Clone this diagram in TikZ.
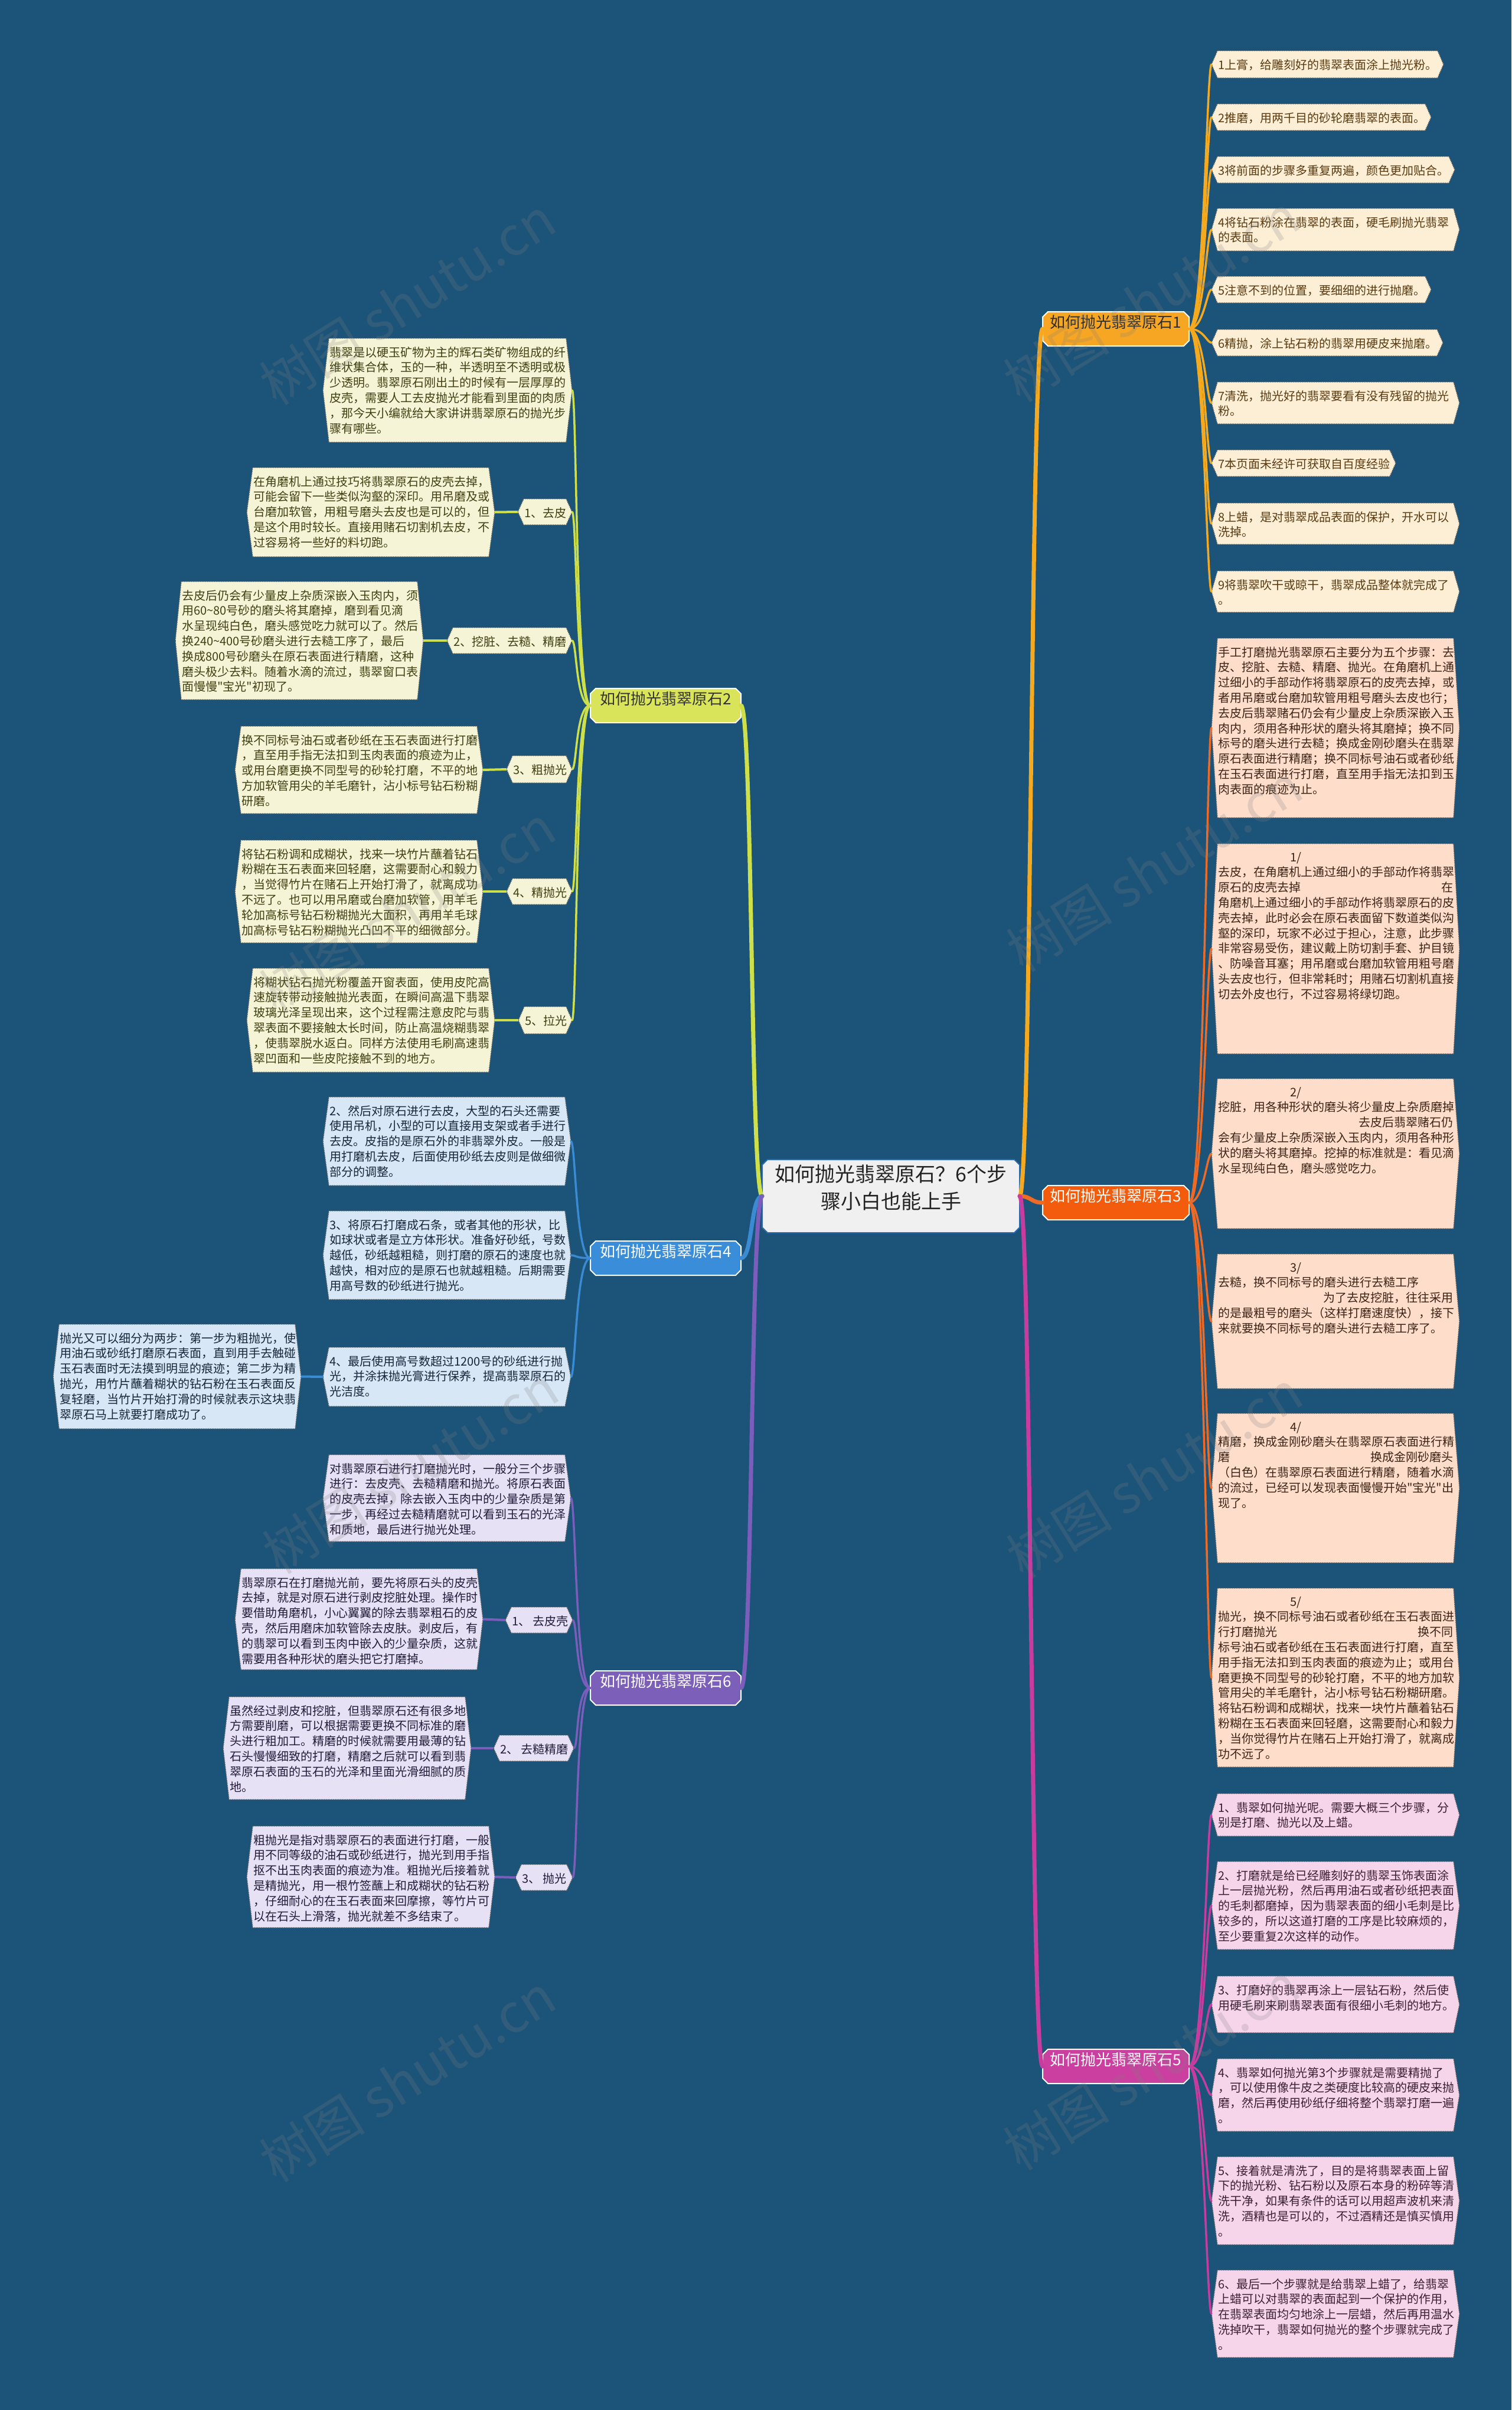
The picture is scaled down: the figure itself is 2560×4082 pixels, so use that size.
\documentclass[tikz,border=0pt]{standalone}
\usepackage{fontspec}
\setmainfont{Noto Sans CJK SC}[Ligatures=TeXOff]
\usetikzlibrary{fit}
\pgfdeclarelayer{bglayer}
\pgfdeclarelayer{shapelayer}
\pgfdeclarelayer{wmlayer}
\pgfsetlayers{bglayer,shapelayer,main,wmlayer}

\definecolor{bgc}{HTML}{1C5479}
% leaf colours
\definecolor{yfill}{HTML}{FCEFD6}\definecolor{ytext}{HTML}{5A3A10}
\definecolor{ofill}{HTML}{FEDDCB}\definecolor{otext}{HTML}{3B2416}
\definecolor{pfill}{HTML}{F6D5EB}\definecolor{ptext}{HTML}{3B1F33}
\definecolor{gfill}{HTML}{F6F4D6}\definecolor{gtext}{HTML}{3F3F12}
\definecolor{bfill}{HTML}{D8E7F6}\definecolor{btext}{HTML}{15263A}
\definecolor{vfill}{HTML}{E6E1F4}\definecolor{vtext}{HTML}{221C3A}
% main nodes
\definecolor{cfill}{HTML}{F0F0F0}\definecolor{ctext}{HTML}{222222}\definecolor{cdraw}{HTML}{2A6BB0}
\definecolor{m1fill}{HTML}{F6A623}\definecolor{m1text}{HTML}{2E2E2E}\definecolor{m1draw}{HTML}{FFFFFF}
\definecolor{m2fill}{HTML}{D9E45A}\definecolor{m2text}{HTML}{333333}\definecolor{m2draw}{HTML}{FFFFFF}
\definecolor{m3fill}{HTML}{F25C0C}\definecolor{m3text}{HTML}{FFFFFF}\definecolor{m3draw}{HTML}{FFFFFF}
\definecolor{m4fill}{HTML}{3A8DD8}\definecolor{m4text}{HTML}{FFFFFF}\definecolor{m4draw}{HTML}{FFFFFF}
\definecolor{m5fill}{HTML}{CB3FA0}\definecolor{m5text}{HTML}{FFFFFF}\definecolor{m5draw}{HTML}{FFFFFF}
\definecolor{m6fill}{HTML}{7C5FB9}\definecolor{m6text}{HTML}{FFFFFF}\definecolor{m6draw}{HTML}{FFFFFF}
% lines
\definecolor{l1c}{HTML}{F5A91F}
\definecolor{l2c}{HTML}{CDE04A}
\definecolor{l3c}{HTML}{EE6A25}
\definecolor{l4c}{HTML}{3A8AD4}
\definecolor{l5c}{HTML}{C73C9E}
\definecolor{l6c}{HTML}{7B5EBB}

\tikzset{
  leaftext/.style={anchor=north west, inner sep=0pt, align=left,
    font=\fontsize{20}{25.8}\selectfont},
  leafshape/.style={draw=black!65, line width=1.4pt, dash pattern=on 1.5pt off 1.5pt},
  mainline/.style={line width=7pt, line cap=round},
  subline/.style={line width=3.5pt, line cap=round},
  wmark/.style={font=\fontsize{90}{90}\selectfont, rotate=32, text=gray, opacity=0.22},
}

\newcommand{\leaf}[7]{%
  \node[fit={(#3,#4) (#5,#6)}, inner sep=0pt, outer sep=0pt] (#1) {};%
  \node[leaftext, text=#2text] (#1-t) at (#3+1,#4+14) {#7};%
  \begin{pgfonlayer}{shapelayer}%
  \path[leafshape, fill=#2fill] ([xshift=-10pt]#1.west) -- (#1.north west) -- (#1.north east)
     -- ([xshift=10pt]#1.east) -- (#1.south east) -- (#1.south west) -- cycle;%
  \end{pgfonlayer}%
}
\newcommand{\octnode}[8]{%
  \node[fit={(#2,#3) (#4,#5)}, inner sep=0pt, outer sep=0pt, align=center, text=#6text, font=#7] (#1) {#8};%
  \begin{pgfonlayer}{shapelayer}%
  \path[fill=#6fill, draw=#6draw, line width=2pt] ([xshift=9pt]#1.north west) -- ([xshift=-9pt]#1.north east)
    -- ([yshift=-9pt]#1.north east) -- ([yshift=9pt]#1.south east) -- ([xshift=-9pt]#1.south east)
    -- ([xshift=9pt]#1.south west) -- ([yshift=9pt]#1.south west) -- ([yshift=-9pt]#1.north west) -- cycle;%
  \end{pgfonlayer}%
}
\newcommand{\indt}{\hspace*{122pt}}

\begin{document}
\begin{tikzpicture}[x=1pt,y=-1pt]
\useasboundingbox (0,0) rectangle (2560,4082);
\begin{pgfonlayer}{bglayer}
\fill[bgc] (0,0) rectangle (2560,4082);
\end{pgfonlayer}

% ---------- centre and branches ----------
\octnode{C}{1291}{1964}{1727}{2088}{c}{\fontsize{34}{46}\selectfont}{如何抛光翡翠原石？6个步\\骤小白也能上手}
\octnode{B1}{1766}{528}{2014}{586}{m1}{\fontsize{26}{30}\selectfont}{如何抛光翡翠原石1}
\octnode{B3}{1766}{2008}{2014}{2066}{m3}{\fontsize{26}{30}\selectfont}{如何抛光翡翠原石3}
\octnode{B5}{1766}{3471}{2014}{3529}{m5}{\fontsize{26}{30}\selectfont}{如何抛光翡翠原石5}
\octnode{B2}{1000}{1166}{1255}{1224}{m2}{\fontsize{26}{30}\selectfont}{如何抛光翡翠原石2}
\octnode{B4}{1000}{2102}{1255}{2160}{m4}{\fontsize{26}{30}\selectfont}{如何抛光翡翠原石4}
\octnode{B6}{1000}{2830}{1255}{2888}{m6}{\fontsize{26}{30}\selectfont}{如何抛光翡翠原石6}

% ---------- branch 1 ----------
\leaf{r1a}{y}{2062}{86}{2435}{132}{1上膏，给雕刻好的翡翠表面涂上抛光粉。}
\leaf{r1b}{y}{2062}{176}{2414}{221}{2推磨，用两千目的砂轮磨翡翠的表面。}
\leaf{r1c}{y}{2062}{265}{2454}{310}{3将前面的步骤多重复两遍，颜色更加贴合。}
\leaf{r1d}{y}{2062}{353}{2462}{425}{4将钻石粉涂在翡翠的表面，硬毛刷抛光翡翠\\的表面。}
\leaf{r1e}{y}{2062}{468}{2414}{513}{5注意不到的位置，要细细的进行抛磨。}
\leaf{r1f}{y}{2062}{558}{2434}{603}{6精抛，涂上钻石粉的翡翠用硬皮来抛磨。}
\leaf{r1g}{y}{2062}{647}{2462}{718}{7清洗，抛光好的翡翠要看有没有残留的抛光\\粉。}
\leaf{r1h}{y}{2062}{762}{2354}{807}{7本页面未经许可获取自百度经验}
\leaf{r1i}{y}{2062}{852}{2462}{922}{8上蜡，是对翡翠成品表面的保护，开水可以\\洗掉。}
\leaf{r1j}{y}{2062}{967}{2462}{1037}{9将翡翠吹干或晾干，翡翠成品整体就完成了\\。}

% ---------- branch 3 ----------
\leaf{r3a}{o}{2062}{1081}{2462}{1385}{手工打磨抛光翡翠原石主要分为五个步骤：去\\皮、挖脏、去糙、精磨、抛光。在角磨机上通\\过细小的手部动作将翡翠原石的皮壳去掉，或\\者用吊磨或台磨加软管用粗号磨头去皮也行；\\去皮后翡翠赌石仍会有少量皮上杂质深嵌入玉\\肉内，须用各种形状的磨头将其磨掉；换不同\\标号的磨头进行去糙；换成金刚砂磨头在翡翠\\原石表面进行精磨；换不同标号油石或者砂纸\\在玉石表面进行打磨，直至用手指无法扣到玉\\肉表面的痕迹为止。}
\leaf{r3b}{o}{2062}{1429}{2462}{1785}{\indt 1/\\去皮，在角磨机上通过细小的手部动作将翡翠\\\makebox[398pt][l]{原石的皮壳去掉\hfill 在}\\角磨机上通过细小的手部动作将翡翠原石的皮\\壳去掉，此时必会在原石表面留下数道类似沟\\壑的深印，玩家不必过于担心，注意，此步骤\\非常容易受伤，建议戴上防切割手套、护目镜\\、防噪音耳塞；用吊磨或台磨加软管用粗号磨\\头去皮也行，但非常耗时；用赌石切割机直接\\切去外皮也行，不过容易将绿切跑。}
\leaf{r3c}{o}{2062}{1827}{2462}{2081}{\indt 2/\\挖脏，用各种形状的磨头将少量皮上杂质磨掉\\\makebox[398pt][r]{去皮后翡翠赌石仍}\\会有少量皮上杂质深嵌入玉肉内，须用各种形\\状的磨头将其磨掉。挖掉的标准就是：看见滴\\水呈现纯白色，磨头感觉吃力。}
\leaf{r3d}{o}{2062}{2124}{2462}{2352}{\indt 3/\\去糙，换不同标号的磨头进行去糙工序\\\makebox[398pt][r]{为了去皮挖脏，往往采用}\\的是最粗号的磨头（这样打磨速度快），接下\\来就要换不同标号的磨头进行去糙工序了。}
\leaf{r3e}{o}{2062}{2394}{2462}{2647}{\indt 4/\\精磨，换成金刚砂磨头在翡翠原石表面进行精\\\makebox[398pt][l]{磨\hfill 换成金刚砂磨头}\\（白色）在翡翠原石表面进行精磨，随着水滴\\的流过，已经可以发现表面慢慢开始"宝光"出\\现了。}
\leaf{r3f}{o}{2062}{2690}{2462}{2993}{\indt 5/\\抛光，换不同标号油石或者砂纸在玉石表面进\\\makebox[398pt][l]{行打磨抛光\hfill 换不同}\\标号油石或者砂纸在玉石表面进行打磨，直至\\用手指无法扣到玉肉表面的痕迹为止；或用台\\磨更换不同型号的砂轮打磨，不平的地方加软\\管用尖的羊毛磨针，沾小标号钻石粉糊研磨。\\将钻石粉调和成糊状，找来一块竹片蘸着钻石\\粉糊在玉石表面来回轻磨，这需要耐心和毅力\\，当你觉得竹片在赌石上开始打滑了，就离成\\功不远了。}

% ---------- branch 5 ----------
\leaf{r5a}{p}{2062}{3038}{2462}{3110}{1、翡翠如何抛光呢。需要大概三个步骤，分\\别是打磨、抛光以及上蜡。}
\leaf{r5b}{p}{2062}{3153}{2462}{3302}{2、打磨就是给已经雕刻好的翡翠玉饰表面涂\\上一层抛光粉，然后再用油石或者砂纸把表面\\的毛刺都磨掉，因为翡翠表面的细小毛刺是比\\较多的，所以这道打磨的工序是比较麻烦的，\\至少要重复2次这样的动作。}
\leaf{r5c}{p}{2062}{3347}{2462}{3443}{3、打磨好的翡翠再涂上一层钻石粉，然后使\\用硬毛刷来刷翡翠表面有很细小毛刺的地方。}
\leaf{r5d}{p}{2062}{3487}{2462}{3610}{4、翡翠如何抛光第3个步骤就是需要精抛了\\，可以使用像牛皮之类硬度比较高的硬皮来抛\\磨，然后再使用砂纸仔细将整个翡翠打磨一遍\\。}
\leaf{r5e}{p}{2062}{3653}{2462}{3802}{5、接着就是清洗了，目的是将翡翠表面上留\\下的抛光粉、钻石粉以及原石本身的粉碎等清\\洗干净，如果有条件的话可以用超声波机来清\\洗，酒精也是可以的，不过酒精还是慎买慎用\\。}
\leaf{r5f}{p}{2062}{3845}{2462}{3993}{6、最后一个步骤就是给翡翠上蜡了，给翡翠\\上蜡可以对翡翠的表面起到一个保护的作用，\\在翡翠表面均匀地涂上一层蜡，然后再用温水\\洗掉吹干，翡翠如何抛光的整个步骤就完成了\\。}

% ---------- branch 2 ----------
\leaf{l2i}{g}{557}{573}{959}{749}{翡翠是以硬玉矿物为主的辉石类矿物组成的纤\\维状集合体，玉的一种，半透明至不透明或极\\少透明。翡翠原石刚出土的时候有一层厚厚的\\皮壳，需要人工去皮抛光才能看到里面的肉质\\，那今天小编就给大家讲讲翡翠原石的抛光步\\骤有哪些。}
\leaf{l2a}{g}{887}{845}{959}{889}{1、去皮}
\leaf{l2at}{g}{428}{792}{828}{943}{在角磨机上通过技巧将翡翠原石的皮壳去掉，\\可能会留下一些类似沟壑的深印。用吊磨及或\\台磨加软管，用粗号磨头去皮也是可以的，但\\是这个用时较长。直接用赌石切割机去皮，不\\过容易将一些好的料切跑。}
\leaf{l2b}{g}{767}{1063}{959}{1107}{2、挖脏、去糙、精磨}
\leaf{l2bt}{g}{307}{985}{707}{1185}{去皮后仍会有少量皮上杂质深嵌入玉肉内，须\\用60\textasciitilde80号砂的磨头将其磨掉，磨到看见滴\\水呈现纯白色，磨头感觉吃力就可以了。然后\\换240\textasciitilde400号砂磨头进行去糙工序了，最后\\换成800号砂磨头在原石表面进行精磨，这种\\磨头极少去料。随着水滴的流过，翡翠窗口表\\面慢慢"宝光"初现了。}
\leaf{l2c}{g}{868}{1280}{959}{1326}{3、粗抛光}
\leaf{l2ct}{g}{408}{1230}{808}{1378}{换不同标号油石或者砂纸在玉石表面进行打磨\\，直至用手指无法扣到玉肉表面的痕迹为止，\\或用台磨更换不同型号的砂轮打磨，不平的地\\方加软管用尖的羊毛磨针，沾小标号钻石粉糊\\研磨。}
\leaf{l2d}{g}{868}{1488}{959}{1532}{4、精抛光}
\leaf{l2dt}{g}{408}{1423}{808}{1597}{将钻石粉调和成糊状，找来一块竹片蘸着钻石\\粉糊在玉石表面来回轻磨，这需要耐心和毅力\\，当觉得竹片在赌石上开始打滑了，就离成功\\不远了。也可以用吊磨或台磨加软管，用羊毛\\轮加高标号钻石粉糊抛光大面积，再用羊毛球\\加高标号钻石粉糊抛光凸凹不平的细微部分。}
\leaf{l2e}{g}{888}{1705}{959}{1751}{5、拉光}
\leaf{l2et}{g}{428}{1640}{828}{1816}{将糊状钻石抛光粉覆盖开窗表面，使用皮陀高\\速旋转带动接触抛光表面，在瞬间高温下翡翠\\玻璃光泽呈现出来，这个过程需注意皮陀与翡\\翠表面不要接触太长时间，防止高温烧糊翡翠\\，使翡翠脱水返白。同样方法使用毛刷高速翡\\翠凹面和一些皮陀接触不到的地方。}

% ---------- branch 4 ----------
\leaf{l4a}{b}{557}{1858}{957}{2008}{2、然后对原石进行去皮，大型的石头还需要\\使用吊机，小型的可以直接用支架或者手进行\\去皮。皮指的是原石外的非翡翠外皮。一般是\\用打磨机去皮，后面使用砂纸去皮则是做细微\\部分的调整。}
\leaf{l4b}{b}{557}{2051}{957}{2201}{3、将原石打磨成石条，或者其他的形状，比\\如球状或者是立方体形状。准备好砂纸，号数\\越低，砂纸越粗糙，则打磨的原石的速度也就\\越快，相对应的是原石也就越粗糙。后期需要\\用高号数的砂纸进行抛光。}
\leaf{l4c}{b}{557}{2282}{957}{2382}{4、最后使用高号数超过1200号的砂纸进行抛\\光，并涂抹抛光膏进行保养，提高翡翠原石的\\光洁度。}
\leaf{l4d}{b}{100}{2243}{500}{2420}{抛光又可以细分为两步：第一步为粗抛光，使\\用油石或砂纸打磨原石表面，直到用手去触碰\\玉石表面时无法摸到明显的痕迹；第二步为精\\抛光，用竹片蘸着糊状的钻石粉在玉石表面反\\复轻磨，当竹片开始打滑的时候就表示这块翡\\翠原石马上就要打磨成功了。}

% ---------- branch 6 ----------
\leaf{l6i}{v}{557}{2464}{957}{2611}{对翡翠原石进行打磨抛光时，一般分三个步骤\\进行：去皮壳、去糙精磨和抛光。将原石表面\\的皮壳去掉，除去嵌入玉肉中的少量杂质是第\\一步，再经过去糙精磨就可以看到玉石的光泽\\和质地，最后进行抛光处理。}
\leaf{l6a}{v}{866}{2722}{960}{2766}{1、 去皮壳}
\leaf{l6at}{v}{408}{2657}{808}{2828}{翡翠原石在打磨抛光前，要先将原石头的皮壳\\去掉，就是对原石进行剥皮挖脏处理。操作时\\要借助角磨机，小心翼翼的除去翡翠粗石的皮\\壳，然后用磨床加软管除去皮肤。剥皮后，有\\的翡翠可以看到玉肉中嵌入的少量杂质，这就\\需要用各种形状的磨头把它打磨掉。}
\leaf{l6b}{v}{846}{2939}{962}{2983}{2、 去糙精磨}
\leaf{l6bt}{v}{388}{2874}{788}{3048}{虽然经过剥皮和挖脏，但翡翠原石还有很多地\\方需要削磨，可以根据需要更换不同标准的磨\\头进行粗加工。精磨的时候就需要用最薄的钻\\石头慢慢细致的打磨，精磨之后就可以看到翡\\翠原石表面的玉石的光泽和里面光滑细腻的质\\地。}
\leaf{l6c}{v}{883}{3158}{960}{3202}{3、 抛光}
\leaf{l6ct}{v}{428}{3093}{828}{3265}{粗抛光是指对翡翠原石的表面进行打磨，一般\\用不同等级的油石或砂纸进行，抛光到用手指\\抠不出玉肉表面的痕迹为准。粗抛光后接着就\\是精抛光，用一根竹签蘸上和成糊状的钻石粉\\，仔细耐心的在玉石表面来回摩擦，等竹片可\\以在石头上滑落，抛光就差不多结束了。}

% ---------- connectors ----------
\begin{pgfonlayer}{shapelayer}
\draw[mainline, l1c] (C.east) .. controls +(20,0) and +(-20,0) .. (B1.west);
\draw[mainline, l3c] (C.east) .. controls +(20,0) and +(-20,0) .. (B3.west);
\draw[mainline, l5c] (C.east) .. controls +(20,0) and +(-20,0) .. (B5.west);
\draw[mainline, l2c] (C.west) .. controls +(-20,0) and +(20,0) .. (B2.east);
\draw[mainline, l4c] (C.west) .. controls +(-20,0) and +(20,0) .. (B4.east);
\draw[mainline, l6c] (C.west) .. controls +(-20,0) and +(20,0) .. (B6.east);
\foreach \n in {r1a,r1b,r1c,r1d,r1e,r1f,r1g,r1h,r1i,r1j}
  \draw[subline, l1c] (B1.east) .. controls +(25,0) and +(-8,0) .. ([xshift=-10pt]\n.west);
\foreach \n in {r3a,r3b,r3c,r3d,r3e,r3f}
  \draw[subline, l3c] (B3.east) .. controls +(25,0) and +(-8,0) .. ([xshift=-10pt]\n.west);
\foreach \n in {r5a,r5b,r5c,r5d,r5e,r5f}
  \draw[subline, l5c] (B5.east) .. controls +(25,0) and +(-8,0) .. ([xshift=-10pt]\n.west);
\foreach \n in {l2i,l2a,l2b,l2c,l2d,l2e}
  \draw[subline, l2c] (B2.west) .. controls +(-25,0) and +(8,0) .. ([xshift=10pt]\n.east);
\foreach \n in {l4a,l4b,l4c}
  \draw[subline, l4c] (B4.west) .. controls +(-25,0) and +(8,0) .. ([xshift=10pt]\n.east);
\foreach \n in {l6i,l6a,l6b,l6c}
  \draw[subline, l6c] (B6.west) .. controls +(-25,0) and +(8,0) .. ([xshift=10pt]\n.east);
\foreach \a/\b in {l2a/l2at,l2b/l2bt,l2c/l2ct,l2d/l2dt,l2e/l2et}
  \draw[line width=4pt, l2c] ([xshift=-10pt]\a.west) -- ([xshift=10pt]\b.east);
\draw[line width=4pt, l4c] ([xshift=-10pt]l4c.west) -- ([xshift=10pt]l4d.east);
\foreach \a/\b in {l6a/l6at,l6b/l6bt,l6c/l6ct}
  \draw[line width=4pt, l6c] ([xshift=-10pt]\a.west) -- ([xshift=10pt]\b.east);
\end{pgfonlayer}

% ---------- watermarks ----------
\begin{pgfonlayer}{wmlayer}
\node[wmark] (wm1) at (690,510) {树图 shutu.cn};
\node[wmark] (wm2) at (1950,505) {树图 shutu.cn};
\node[wmark] (wm3) at (690,1540) {树图 shutu.cn};
\node[wmark] (wm4) at (1955,1470) {树图 shutu.cn};
\node[wmark] (wm5) at (695,2490) {树图 shutu.cn};
\node[wmark] (wm6) at (1955,2497) {树图 shutu.cn};
\node[wmark] (wm7) at (690,3520) {树图 shutu.cn};
\node[wmark] (wm8) at (1950,3500) {树图 shutu.cn};
\end{pgfonlayer}
\end{tikzpicture}
\end{document}
